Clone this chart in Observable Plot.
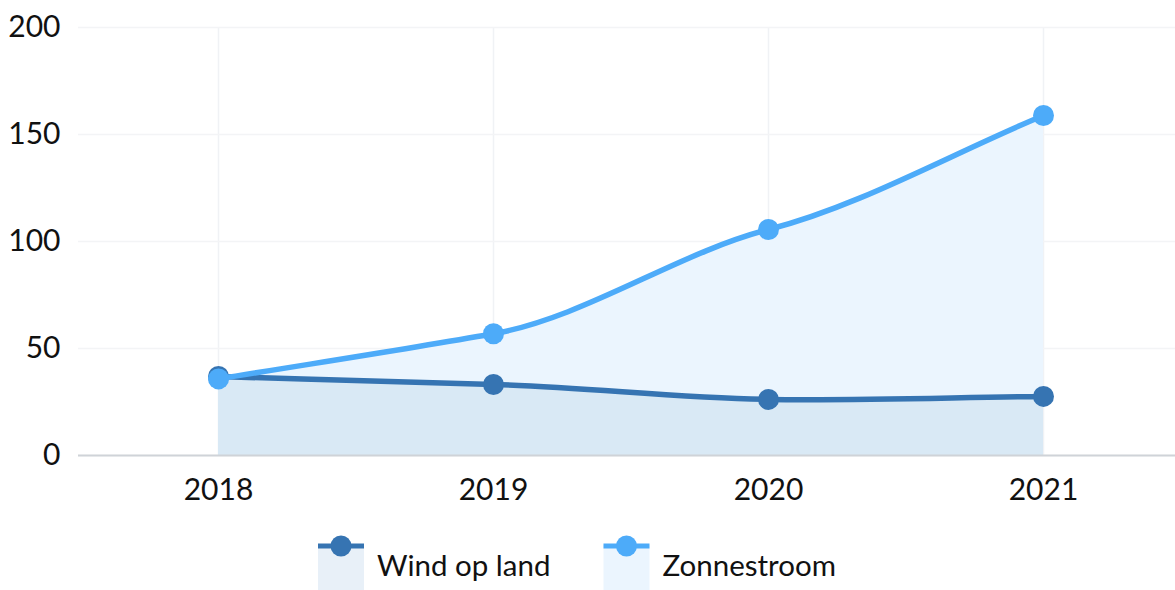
<!DOCTYPE html>
<html><head><meta charset="utf-8">
<script src="https://cdn.jsdelivr.net/npm/d3@7"></script>
<script src="https://cdn.jsdelivr.net/npm/@observablehq/plot@0.6"></script>
<style>
html,body{margin:0;padding:0;background:#fff;}
body{font-family:Lato,"Noto Sans",sans-serif;width:1175px;height:590px;overflow:hidden;}
#legend{display:block;}
</style></head>
<body>
<div id="chart"></div>
<div id="legend"></div>
<script>
const years = ["2018", "2019", "2020", "2021"];
const windOpLand = [36.9, 33.2, 26.2, 27.6];
const zonnestroom = [35.8, 56.9, 105.6, 158.9];
const seriesNames = ["Wind op land", "Zonnestroom"];
const lineColors = ["#3674b2", "#4dabf9"];
const areaColors = ["#d9e9f5", "#ebf5fe"];
const legendAreaColors = ["#e8f0f8", "#ebf5fe"];
const yTicks = [0, 50, 100, 150, 200];

const windData = years.map((year, i) => ({year, value: windOpLand[i]}));
const zonData = years.map((year, i) => ({year, value: zonnestroom[i]}));

// Smooth spline whose tangents at interior points are softened (gives the gentle S-shape per segment)
function softSpline(context) {
  let pts = [];
  let lineState = NaN;
  const k = 0.65;
  return {
    areaStart() { lineState = 0; },
    areaEnd() { lineState = NaN; },
    lineStart() { pts = []; },
    point(x, y) { pts.push([+x, +y]); },
    lineEnd() {
      const n = pts.length;
      if (n) {
        if (lineState) context.lineTo(pts[0][0], pts[0][1]);
        else context.moveTo(pts[0][0], pts[0][1]);
        if (n > 1) {
          const s = [];
          for (let i = 0; i < n - 1; i++) {
            const h = pts[i + 1][0] - pts[i][0];
            s.push(h ? (pts[i + 1][1] - pts[i][1]) / h : 0);
          }
          const m = pts.map((p, i) => {
            if (i === 0) return s[0];
            if (i === n - 1) return s[n - 2];
            return k * (s[i - 1] + s[i]) / 2;
          });
          for (let i = 0; i < n - 1; i++) {
            const [x0, y0] = pts[i], [x1, y1] = pts[i + 1];
            const h = (x1 - x0) / 3;
            context.bezierCurveTo(x0 + h, y0 + m[i] * h, x1 - h, y1 - m[i + 1] * h, x1, y1);
          }
        }
      }
      if (lineState || (lineState !== 0 && n === 1)) context.closePath();
      lineState = 1 - lineState;
    }
  };
}

const chart = Plot.plot({
  width: 1175,
  height: 525,
  marginLeft: 78,
  marginRight: 0,
  marginTop: 27,
  marginBottom: 70,
  style: {fontFamily: "Lato, sans-serif", fontSize: "30px", color: "#111", background: "#fff"},
  x: {type: "point", domain: years, range: [217, 1044], padding: 0, label: null, tickSize: 0, tickPadding: 23},
  y: {domain: [0, 200], ticks: yTicks, label: null, tickSize: 0, tickPadding: 18},
  marks: [
    Plot.gridX(years, {stroke: "#f0f2f5", strokeOpacity: 1, strokeWidth: 1.5}),
    Plot.gridY(yTicks, {stroke: "#f3f4f6", strokeOpacity: 1, strokeWidth: 1.5}),
    Plot.areaY(zonData, {x: "year", y: "value", curve: softSpline, fill: areaColors[1]}),
    Plot.areaY(windData, {x: "year", y: "value", curve: softSpline, fill: areaColors[0]}),
    Plot.ruleY([0], {stroke: "#cfd3d8", strokeWidth: 2}),
    Plot.lineY(windData, {x: "year", y: "value", curve: softSpline, stroke: lineColors[0], strokeWidth: 5.5}),
    Plot.dot(windData, {x: "year", y: "value", r: 10.5, fill: lineColors[0]}),
    Plot.lineY(zonData, {x: "year", y: "value", curve: softSpline, stroke: lineColors[1], strokeWidth: 5.5}),
    Plot.dot(zonData, {x: "year", y: "value", r: 10.5, fill: lineColors[1]})
  ]
});
document.getElementById("chart").appendChild(chart);

// Legend
const lsvg = d3.select("#legend").append("svg")
  .attr("width", 1175).attr("height", 65)
  .style("display", "block");
let xPos = 318;
seriesNames.forEach((name, i) => {
  const g = lsvg.append("g").attr("transform", `translate(${xPos},0)`);
  g.append("rect").attr("x", 0).attr("y", 20).attr("width", 46).attr("height", 45).attr("fill", legendAreaColors[i]);
  g.append("line").attr("x1", 0).attr("x2", 46).attr("y1", 21).attr("y2", 21)
    .attr("stroke", lineColors[i]).attr("stroke-width", 5);
  g.append("circle").attr("cx", 23).attr("cy", 21).attr("r", 10.5).attr("fill", lineColors[i]);
  const t = g.append("text").attr("x", 59).attr("y", 51)
    .attr("font-family", "Lato, sans-serif").attr("font-size", 29.5).attr("fill", "#111")
    .text(name);
  const w = t.node().getComputedTextLength();
  xPos += 59 + w + 53;
});
</script>
</body></html>
